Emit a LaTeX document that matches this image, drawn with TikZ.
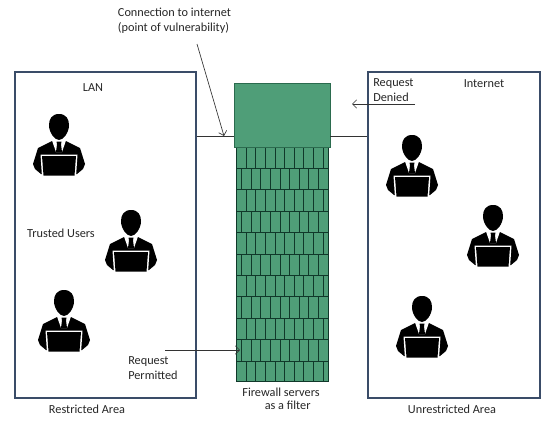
\documentclass[tikz,border=0pt]{standalone}
\usepackage{fontspec}
\setmainfont{Carlito}
\usetikzlibrary{arrows.meta,positioning}
\definecolor{fwgreen}{HTML}{4F9E78}
\definecolor{fwedge}{HTML}{2B6B4E}
\definecolor{fwline}{HTML}{10382A}
\definecolor{zoneline}{HTML}{3A4C68}

\begin{document}
\begin{tikzpicture}[
    x=0.75pt, y=-0.75pt,
    every node/.style={font=\fontsize{9.2pt}{11pt}\selectfont, text=black!85},
    zone/.style={rectangle, draw=zoneline, line width=1.1pt, inner sep=0pt},
    fwtop/.style={rectangle, draw=fwedge, fill=fwgreen, line width=0.6pt, inner sep=0pt,
                  minimum width=72pt, minimum height=48pt},
    fwwall/.style={rectangle, draw=fwline, fill=fwgreen, line width=0.6pt, inner sep=0pt,
                   minimum width=69pt, minimum height=176pt},
    txt/.style={align=center, inner sep=0pt},
    txl/.style={align=left, inner sep=0pt},
    link/.style={draw=black!80, line width=0.5pt},
    e/.style={link, -{Straight Barb[length=1.1mm,width=2.2mm]}},
    user/.pic={
      \fill[black] (0,-13) .. controls (7,-13) and (10,-8) .. (10,-2)
                   .. controls (10,6) and (4,13) .. (0,13)
                   .. controls (-4,13) and (-10,6) .. (-10,-2)
                   .. controls (-10,-8) and (-7,-13) .. (0,-13) -- cycle;
      \fill[black] (-26,37) -- (-21,21) -- (-7,14) -- (7,14) -- (21,21) -- (26,37)
                   -- (24,42) -- (18,47) -- (-18,47) -- (-24,42) -- cycle;
      \fill[white] (-7,13.5) -- (7,13.5) -- (3,25) -- (-3,25) -- cycle;
      \fill[black] (-2.5,14.5) -- (2.5,14.5) -- (2,17.5) -- (3,25) -- (-3,25) -- (-2,17.5) -- cycle;
      \fill[white] (-18.5,27.5) -- (18.5,27.5) -- (17,50) -- (-17,50) -- cycle;
      \fill[black] (-17,29) -- (17,29) -- (15.5,48.5) -- (-15.5,48.5) -- cycle;
    },
  ]
  \useasboundingbox (0,0) rectangle (560,425);

  \node[zone, minimum width=135.75pt, minimum height=244.5pt] (lan) at (105.5,235) {};
  \node[zone, minimum width=129pt, minimum height=244.5pt] (net) at (454,235) {};

  % firewall
  \node[fwwall] (wall) at (282,264.5) {};
  \foreach \yy in {168.4,189.8,211.2,232.6,254,275.4,296.8,318.2,339.6,361}
    \draw[fwline, line width=0.6pt] (236,\yy) -- (328,\yy);
  \foreach \row in {0,2,4,6,8,10}
    \foreach \xx in {246,255.7,265.3,275.3,284.7,294.3,303.7,313.3,323.7}
      \draw[fwline, line width=0.6pt] (\xx,147+\row*21.4) -- (\xx,168.4+\row*21.4);
  \foreach \row in {1,3,5,7,9}
    \foreach \xx in {241.3,251,260.7,270.3,280,289.3,299,308.7,318.3}
      \draw[fwline, line width=0.6pt] (\xx,147+\row*21.4) -- (\xx,168.4+\row*21.4);
  \node[fwtop] (top) at (282,115) {};

  % users
  \pic at (59,127) {user};
  \pic at (131,223) {user};
  \pic at (64,303) {user};
  \pic at (412,148) {user};
  \pic at (493,218) {user};
  \pic at (422,309) {user};

  \node[txl] (conn) at (174.5,21) {Connection to internet\\(point of vulnerability)};
  \node[txt] (lanlbl) at (93,88) {LAN};
  \node[txt] (trust) at (61,233) {Trusted Users};
  \node[txl, anchor=west] (perm) at (128,368) {Request\\Permitted};
  \node[txt] (restr) at (87,409) {Restricted Area};
  \node[txt] (filter) at (281,392) {Firewall servers};
  \node[txt, below=3.5pt of filter.base, xshift=5pt] (filter2) {as a filter};
  \node[txt] (unres) at (452,409) {Unrestricted Area};
  \node[txl, anchor=west] (deny) at (373,90) {Request\\Denied};
  \node[txt] (inet) at (484,84) {Internet};

  \coordinate (lanport) at (lan.east |- 0,136);
  \coordinate (netport) at (net.west |- 0,136);
  \coordinate (topl) at (top.west |- 0,136);
  \coordinate (topr) at (top.east |- 0,136);
  \coordinate (connend) at (224,136);
  \coordinate (connstart) at (197,44);
  \coordinate (denystart) at (415,104);
  \coordinate (denyend) at (352,104);
  \coordinate (permstart) at (165,350);
  \coordinate (permend) at (240,350);

  \draw[link] (lanport) -- (topl);
  \draw[link] (topr) -- (netport);
  \draw[e] (connstart) -- (connend);
  \draw[e] (denystart) -- (denyend);
  \draw[e] (permstart) -- (permend);
\end{tikzpicture}
\end{document}
